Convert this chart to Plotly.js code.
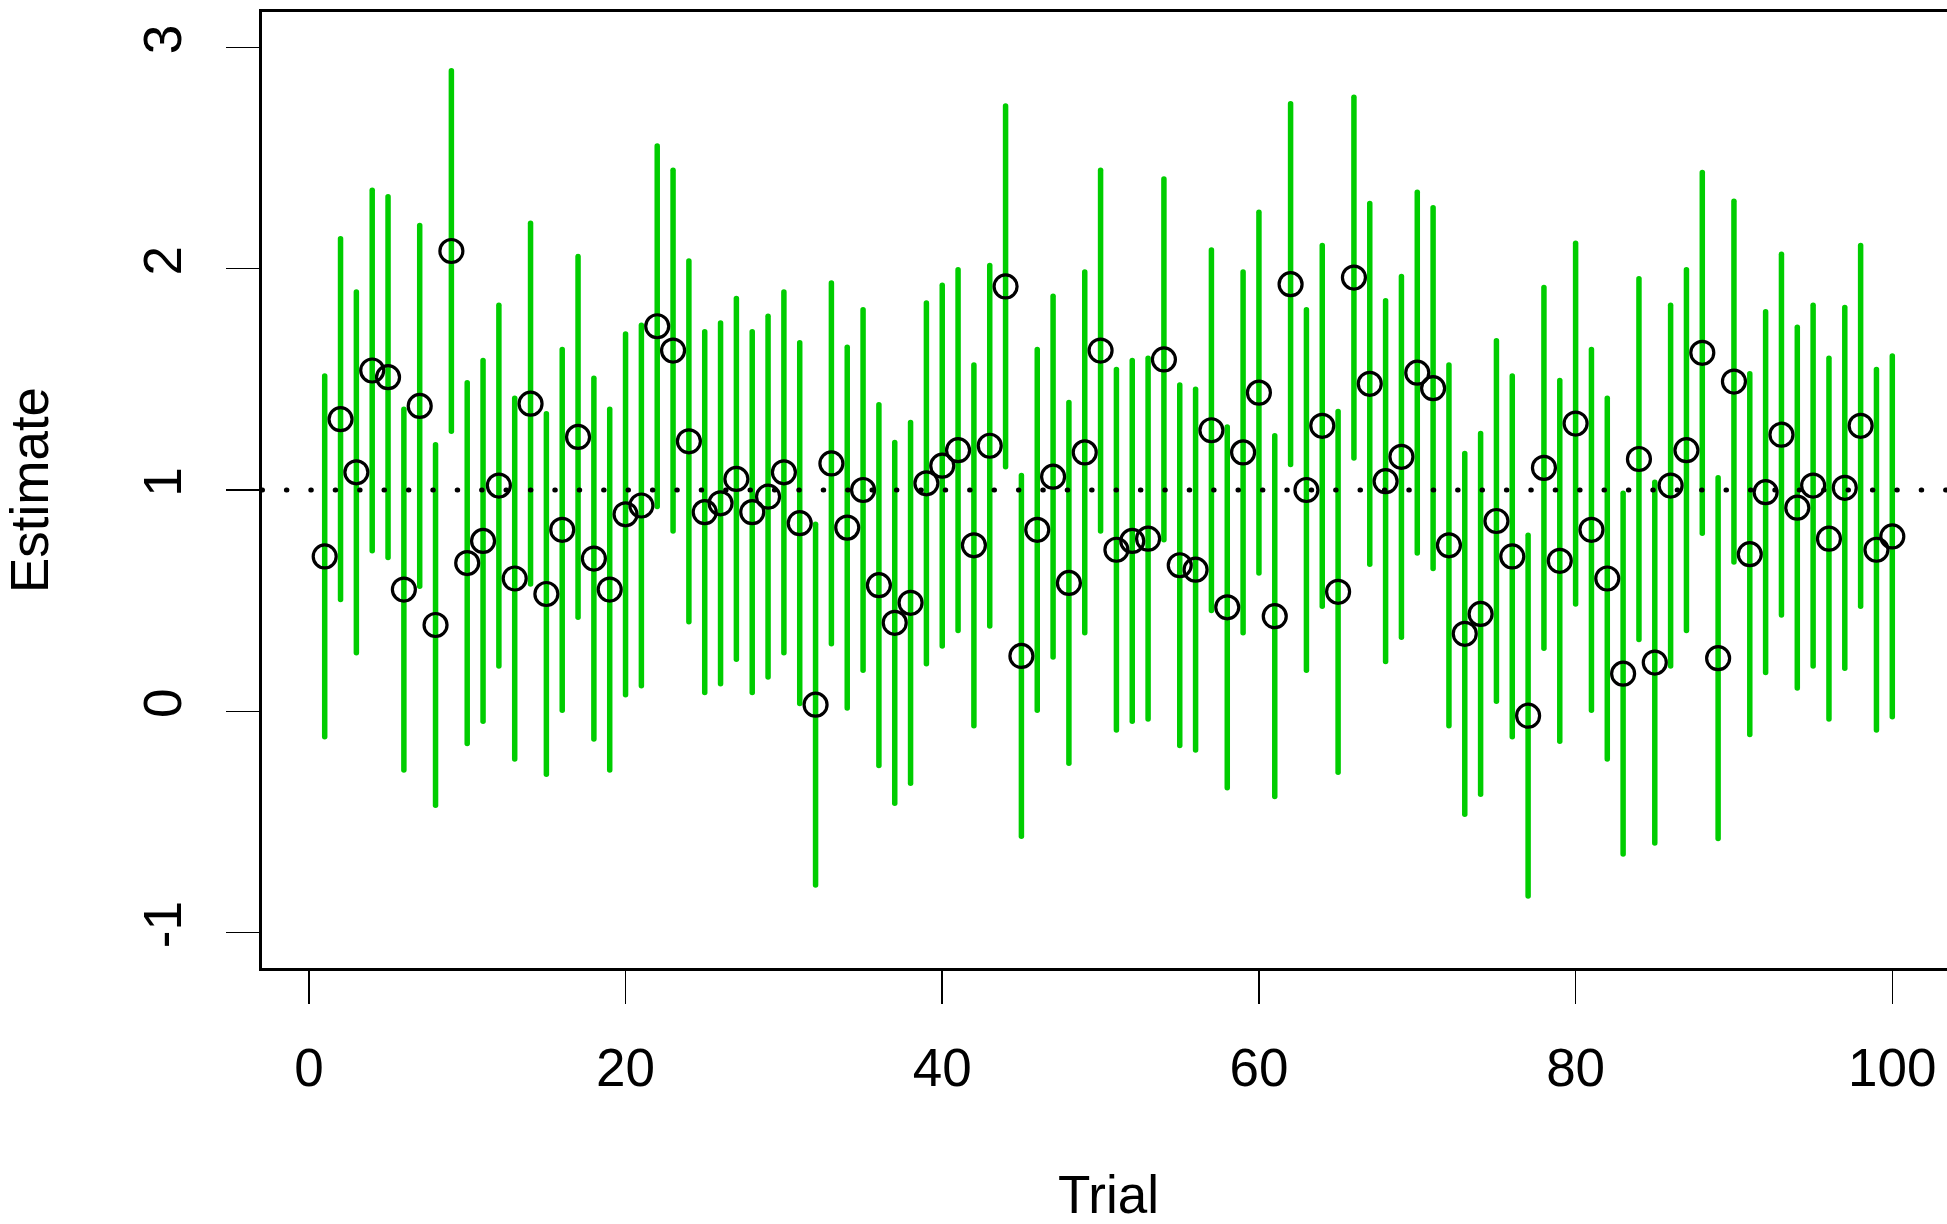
<!DOCTYPE html>
<html>
<head>
<meta charset="utf-8">
<script src="https://cdn.plot.ly/plotly-3.0.1.min.js"></script>
<style>
html, body { margin: 0; padding: 0; overflow: hidden; background: #fff; }
#plot { width: 1960px; height: 1224px; }
.scatterlayer .js-line { stroke-linecap: round; }
.shapelayer path { stroke-linecap: round; }
</style>
</head>
<body>
<div id="plot"></div>
<script>
// Trial numbers
const trials = [1,2,3,4,5,6,7,8,9,10,11,12,13,14,15,16,17,18,19,20,
  21,22,23,24,25,26,27,28,29,30,31,32,33,34,35,36,37,38,39,40,
  41,42,43,44,45,46,47,48,49,50,51,52,53,54,55,56,57,58,59,60,
  61,62,63,64,65,66,67,68,69,70,71,72,73,74,75,76,77,78,79,80,
  81,82,83,84,85,86,87,88,89,90,91,92,93,94,95,96,97,98,99,100];

// Point estimates
const estimate = [0.70,1.32,1.08,1.54,1.51,0.55,1.38,0.39,2.08,0.67,
  0.77,1.02,0.60,1.39,0.53,0.82,1.24,0.69,0.55,0.89,
  0.93,1.74,1.63,1.22,0.90,0.94,1.05,0.90,0.97,1.08,
  0.85,0.03,1.12,0.83,1.00,0.57,0.40,0.49,1.03,1.11,
  1.18,0.75,1.20,1.92,0.25,0.82,1.06,0.58,1.17,1.63,
  0.73,0.77,0.78,1.59,0.66,0.64,1.27,0.47,1.17,1.44,
  0.43,1.93,1.00,1.29,0.54,1.96,1.48,1.04,1.15,1.53,
  1.46,0.75,0.35,0.44,0.86,0.70,-0.02,1.10,0.68,1.30,
  0.82,0.60,0.17,1.14,0.22,1.02,1.18,1.62,0.24,1.49,
  0.71,0.99,1.25,0.92,1.02,0.78,1.01,1.29,0.73,0.79];

// Interval lower ends
const lower = [-0.115,0.505,0.265,0.725,0.695,-0.265,0.565,-0.425,1.265,-0.145,
  -0.045,0.205,-0.215,0.575,-0.285,0.005,0.425,-0.125,-0.265,0.075,
  0.115,0.925,0.815,0.405,0.085,0.125,0.235,0.085,0.155,0.265,
  0.035,-0.785,0.305,0.015,0.185,-0.245,-0.415,-0.325,0.215,0.295,
  0.365,-0.065,0.385,1.105,-0.565,0.005,0.245,-0.235,0.355,0.815,
  -0.085,-0.045,-0.035,0.775,-0.155,-0.175,0.455,-0.345,0.355,0.625,
  -0.385,1.115,0.185,0.475,-0.275,1.145,0.665,0.225,0.335,0.715,
  0.645,-0.065,-0.465,-0.375,0.045,-0.115,-0.835,0.285,-0.135,0.485,
  0.005,-0.215,-0.645,0.325,-0.595,0.205,0.365,0.805,-0.575,0.675,
  -0.105,0.175,0.435,0.105,0.205,-0.035,0.195,0.475,-0.085,-0.025];

// Interval upper ends
const upper = [1.515,2.135,1.895,2.355,2.325,1.365,2.195,1.205,2.895,1.485,
  1.585,1.835,1.415,2.205,1.345,1.635,2.055,1.505,1.365,1.705,
  1.745,2.555,2.445,2.035,1.715,1.755,1.865,1.715,1.785,1.895,
  1.665,0.845,1.935,1.645,1.815,1.385,1.215,1.305,1.845,1.925,
  1.995,1.565,2.015,2.735,1.065,1.635,1.875,1.395,1.985,2.445,
  1.545,1.585,1.595,2.405,1.475,1.455,2.085,1.285,1.985,2.255,
  1.245,2.745,1.815,2.105,1.355,2.775,2.295,1.855,1.965,2.345,
  2.275,1.565,1.165,1.255,1.675,1.515,0.795,1.915,1.495,2.115,
  1.635,1.415,0.985,1.955,1.035,1.835,1.995,2.435,1.055,2.305,
  1.525,1.805,2.065,1.735,1.835,1.595,1.825,2.105,1.545,1.605];

const xTickVals = [0,20,40,60,80,100];
const xTickText = ['0','20','40','60','80','100'];
const yTickVals = [-1,0,1,2,3];
const yTickText = ['-1','0','1','2','3'];
const refValue = 1;

// Build vertical segments for the intervals
const segX = [], segY = [];
for (let i = 0; i < trials.length; i++) {
  segX.push(trials[i], trials[i], null);
  segY.push(lower[i], upper[i], null);
}

const FONT = 'Liberation Sans, Arial, Helvetica, sans-serif';

const data = [
  {
    type: 'scatter', mode: 'lines', x: segX, y: segY,
    line: { color: 'rgb(0,205,0)', width: 5.5 },
    hoverinfo: 'skip', showlegend: false
  },
  {
    type: 'scatter', mode: 'markers', x: trials, y: estimate,
    marker: { symbol: 'circle-open', size: 23, color: '#000', line: { width: 3.2, color: '#000' } },
    showlegend: false
  }
];

const layout = {
  width: 1960, height: 1224,
  margin: { l: 262, r: 5, t: 12, b: 256, pad: 0 },
  paper_bgcolor: '#fff', plot_bgcolor: '#fff',
  font: { family: FONT, size: 53, color: '#000' },
  showlegend: false,
  xaxis: {
    range: [-2.96, 103.96], autorange: false,
    tickvals: xTickVals, ticktext: xTickText,
    ticks: 'outside', ticklen: 33, tickwidth: 1.5, tickcolor: '#000',
    ticklabelstandoff: 18,
    showline: true, linewidth: 3, linecolor: '#000', mirror: true,
    showgrid: false, zeroline: false,
    tickfont: { family: FONT, size: 53, color: '#000' },
    title: { text: 'Trial', font: { family: FONT, size: 53, color: '#000' }, standoff: 92 }
  },
  yaxis: {
    range: [-1.16, 3.16], autorange: false,
    tickvals: yTickVals, ticktext: yTickText,
    ticks: 'outside', ticklen: 33, tickwidth: 1.5, tickcolor: '#000',
    tickangle: -90, ticklabelstandoff: 24,
    showline: true, linewidth: 3, linecolor: '#000', mirror: true,
    showgrid: false, zeroline: false,
    tickfont: { family: FONT, size: 53, color: '#000' },
    title: { text: 'Estimate', font: { family: FONT, size: 53, color: '#000' }, standoff: 81 }
  },
  shapes: [
    {
      type: 'line', xref: 'paper', yref: 'y', x0: 0, x1: 1, y0: refValue, y1: refValue,
      line: { color: '#000', width: 5, dash: '0.5px,23.9px' }, layer: 'above'
    }
  ]
};

Plotly.newPlot('plot', data, layout, { displayModeBar: false, staticPlot: true });
</script>
</body>
</html>
